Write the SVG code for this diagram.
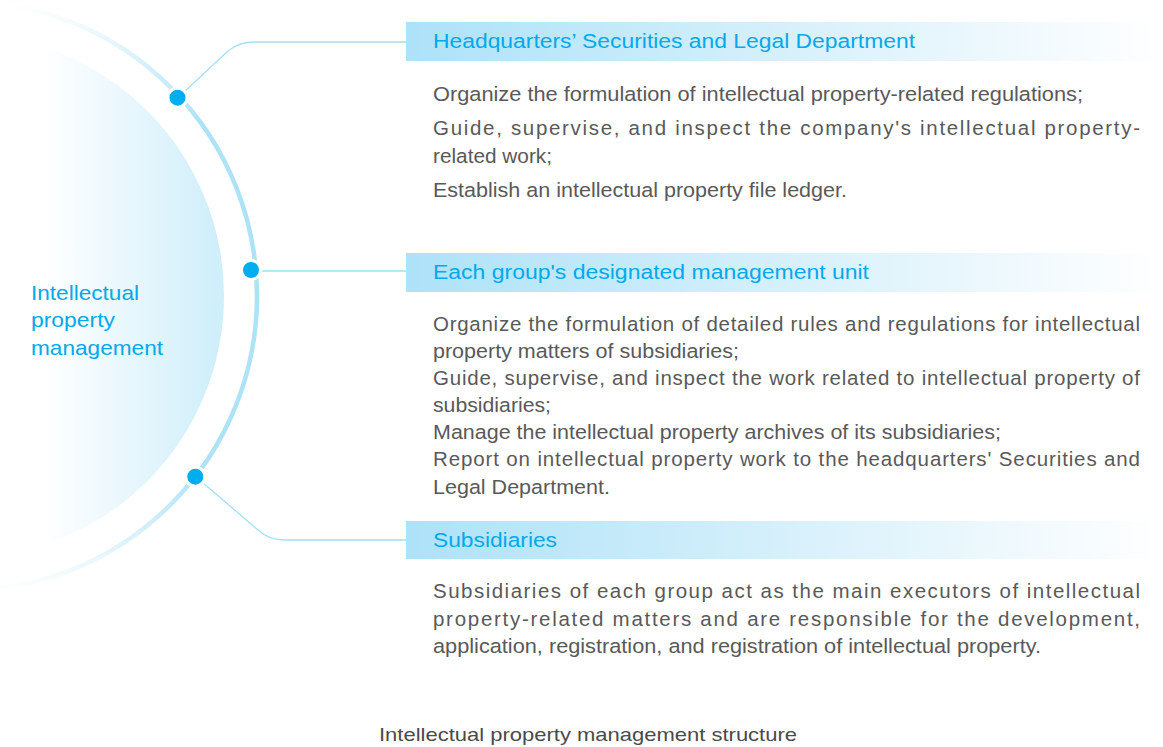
<svg xmlns="http://www.w3.org/2000/svg" width="1163" height="747" viewBox="0 0 1163 747">
  <defs>
    <linearGradient id="arcGrad" gradientUnits="userSpaceOnUse" x1="0" y1="5" x2="0" y2="590">
      <stop offset="0" stop-color="#aee2f7" stop-opacity="0"/>
      <stop offset="0.2" stop-color="#aee2f7" stop-opacity="1"/>
      <stop offset="0.8" stop-color="#aee2f7" stop-opacity="1"/>
      <stop offset="1" stop-color="#aee2f7" stop-opacity="0"/>
    </linearGradient>
    <linearGradient id="innerGrad" gradientUnits="userSpaceOnUse" x1="45" y1="0" x2="226" y2="0">
      <stop offset="0" stop-color="#ffffff" stop-opacity="1"/>
      <stop offset="1" stop-color="#cdeefa"/>
    </linearGradient>
    <linearGradient id="barGrad" gradientUnits="userSpaceOnUse" x1="406" y1="0" x2="1163" y2="0">
      <stop offset="0" stop-color="#ade2f8"/>
      <stop offset="0.5" stop-color="#d6f0fb"/>
      <stop offset="1" stop-color="#ffffff"/>
    </linearGradient>
    <clipPath id="innerClip">
      <rect x="48" y="0" width="300" height="747"/>
    </clipPath>
  </defs>
  <style>
    .head { font-family: "Liberation Sans", Arial, sans-serif; font-size: 20px; fill: #00a9ec; }
    .body { font-family: "Liberation Sans", Arial, sans-serif; font-size: 20.5px; fill: #595959; }
    .conn { fill: none; stroke: #a6def6; stroke-width: 1.3; }
    .dot { fill: #00aeef; stroke: #ffffff; stroke-width: 3; }
    .bar { fill: url(#barGrad); }
  </style>

  <g id="center">
    <circle cx="-38" cy="296" r="262" fill="url(#innerGrad)" clip-path="url(#innerClip)"/>
    <circle cx="-38" cy="296" r="295" fill="none" stroke="url(#arcGrad)" stroke-width="4.5"/>
    <text class="head" style="font-size:21px" x="31" y="300" textLength="108" lengthAdjust="spacingAndGlyphs">Intellectual</text>
    <text class="head" style="font-size:21px" x="31" y="327" textLength="84" lengthAdjust="spacingAndGlyphs">property</text>
    <text class="head" style="font-size:21px" x="31" y="355" textLength="132" lengthAdjust="spacingAndGlyphs">management</text>
  </g>

  <g id="connectors">
    <path class="conn" d="M184,92 L228,51 Q239,42 254,42 L406,42"/>
    <path class="conn" d="M259,271 L406,271"/>
    <path class="conn" d="M202,482 L258,530 Q269,540 284,540 L406,540"/>
    <circle class="dot" cx="177.5" cy="97.7" r="9.5"/>
    <circle class="dot" cx="251" cy="270" r="9.5"/>
    <circle class="dot" cx="195.3" cy="476.7" r="9.5"/>
  </g>

  <g id="hq">
    <rect class="bar" x="406" y="22" width="757" height="39"/>
    <text class="head" x="433" y="48" textLength="482" lengthAdjust="spacingAndGlyphs">Headquarters’ Securities and Legal Department</text>
    <text class="body" x="433" y="101" textLength="650" lengthAdjust="spacingAndGlyphs">Organize the formulation of intellectual property-related regulations;</text>
    <text class="body" x="433" y="135" textLength="707" lengthAdjust="spacing">Guide, supervise, and inspect the company's intellectual property-</text>
    <text class="body" x="433" y="163" textLength="119" lengthAdjust="spacingAndGlyphs">related work;</text>
    <text class="body" x="433" y="197" textLength="414" lengthAdjust="spacingAndGlyphs">Establish an intellectual property file ledger.</text>
  </g>

  <g id="unit">
    <rect class="bar" x="406" y="253" width="757" height="39"/>
    <text class="head" x="433" y="279" textLength="436" lengthAdjust="spacingAndGlyphs">Each group's designated management unit</text>
    <text class="body" x="433" y="331" textLength="707" lengthAdjust="spacing">Organize the formulation of detailed rules and regulations for intellectual</text>
    <text class="body" x="433" y="358" textLength="306" lengthAdjust="spacingAndGlyphs">property matters of subsidiaries;</text>
    <text class="body" x="433" y="385" textLength="707" lengthAdjust="spacing">Guide, supervise, and inspect the work related to intellectual property of</text>
    <text class="body" x="433" y="412" textLength="118" lengthAdjust="spacingAndGlyphs">subsidiaries;</text>
    <text class="body" x="433" y="439" textLength="568" lengthAdjust="spacingAndGlyphs">Manage the intellectual property archives of its subsidiaries;</text>
    <text class="body" x="433" y="466" textLength="707" lengthAdjust="spacing">Report on intellectual property work to the headquarters' Securities and</text>
    <text class="body" x="433" y="494" textLength="177" lengthAdjust="spacingAndGlyphs">Legal Department.</text>
  </g>

  <g id="subs">
    <rect class="bar" x="406" y="521" width="757" height="38"/>
    <text class="head" x="433" y="547" textLength="124" lengthAdjust="spacingAndGlyphs">Subsidiaries</text>
    <text class="body" x="433" y="598" textLength="707" lengthAdjust="spacing">Subsidiaries of each group act as the main executors of intellectual</text>
    <text class="body" x="433" y="626" textLength="707" lengthAdjust="spacing">property-related matters and are responsible for the development,</text>
    <text class="body" x="433" y="653" textLength="608" lengthAdjust="spacingAndGlyphs">application, registration, and registration of intellectual property.</text>
  </g>

  <g id="caption">
    <text class="body" style="fill:#4a4a4a;font-size:19px" x="379" y="741" textLength="418" lengthAdjust="spacingAndGlyphs">Intellectual property management structure</text>
  </g>
</svg>
